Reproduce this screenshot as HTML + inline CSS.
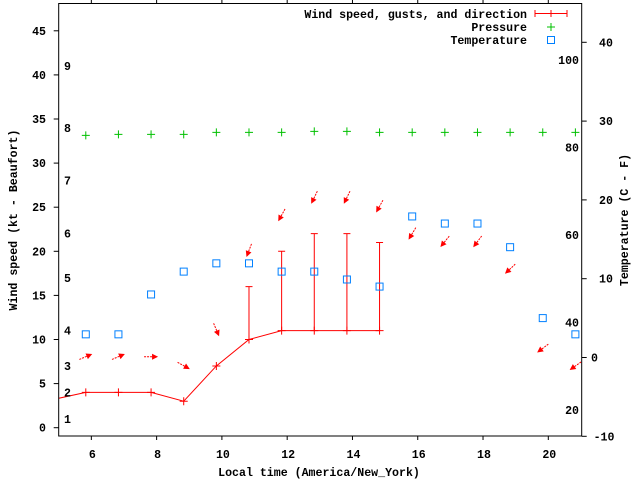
<!DOCTYPE html>
<html><head><meta charset="utf-8"><style>
html,body{margin:0;padding:0;background:#fff;}
svg text{font-family:"Liberation Mono","DejaVu Sans Mono",monospace;font-weight:bold;font-size:11.6px;fill:#000;}
</style></head><body>
<svg id="chart" width="640" height="480" xmlns="http://www.w3.org/2000/svg">
<rect width="640" height="480" fill="#fff"/>
<g id="marks"></g>
</svg>
<script>
const times = [4.83,5.83,6.83,7.83,8.83,9.83,10.83,11.83,12.83,13.83,14.83];
const windSpeed = [3.2,4,4,4,3,7,10,11,11,11,11];
const gustTimes = [10.83,11.83,12.83,13.83,14.83];
const gustValues = [16,20,22,22,21];
const obsTimes = [5.83,6.83,7.83,8.83,9.83,10.83,11.83,12.83,13.83,14.83,15.83,16.83,17.83,18.83,19.83,20.83];
const pressure = [33.15,33.26,33.26,33.26,33.49,33.49,33.49,33.6,33.6,33.49,33.49,33.49,33.49,33.49,33.49,33.49];
const temperature = [2.94,2.94,8.0,10.9,11.95,11.95,10.9,10.9,9.9,9.0,17.9,17.0,17.0,14.0,5.0,2.94];
const arrowLevel = [8.05,8.05,8.05,7.03,11.1,20.1,24.1,26.1,26.1,25.1,22.0,21.1,21.1,18.0,9.0,7.0];
const arrowAngle = [23,23,0,-29,-67,-111,-119,-116,-116,-119,-121,-129,-127,-137,-143,-145];
const xTicks = [6,8,10,12,14,16,18,20];
const yTicks = [0,5,10,15,20,25,30,35,40,45];
const tTicks = [-10,0,10,20,30,40];
const fTicks = [20,40,60,80,100];
const beaufortKt = [1,4,7,11,17,22,28,34,41];
const beaufortLabels = ["1","2","3","4","5","6","7","8","9"];

const L=58.7,R=581.7,T=3.5,B=436;
const sx = v => L + (v-5)*32.64;
const sy = v => 427.7 - v*8.82;
const st = c => 357.5 - c*7.88;
const NS="http://www.w3.org/2000/svg";
const svg=document.getElementById('chart');
const g=document.getElementById('marks');
function mk(tag,attrs,parent){const e=document.createElementNS(NS,tag);for(const k in attrs)e.setAttribute(k,attrs[k]);(parent||g).appendChild(e);return e;}
function txt(s,x,y,anchor,parent){const e=mk('text',{x:x,y:y,'text-anchor':anchor||'start'},parent);e.textContent=s;return e;}

// clip
const defs=mk('defs',{},svg);
const cp=mk('clipPath',{id:'pc'},defs);
mk('rect',{x:L,y:T,width:R-L,height:B-T},cp);
const pg=mk('g',{'clip-path':'url(#pc)'});



// frame
const fr=mk('rect',{x:L,y:T,width:R-L,height:B-T,fill:'none',stroke:'#000','stroke-width':1});



// x ticks
xTicks.forEach(v=>{const x=sx(v);
 mk('line',{x1:x,y1:B,x2:x,y2:B+4,stroke:'#000'});
 mk('line',{x1:x,y1:T,x2:x,y2:T-4,stroke:'#000'});
 const t=txt(String(v),x+1,458,'middle');
 
 
});
yTicks.forEach(v=>{const y=sy(v);
 mk('line',{x1:L,y1:y,x2:L-5,y2:y,stroke:'#000'});
 const t=txt(String(v),46,y+4,'end');
 
 
});
tTicks.forEach(v=>{const y=st(v);
 mk('line',{x1:R,y1:y,x2:R+5,y2:y,stroke:'#000'});
 const t=txt(String(v),v<0?613:(v==0?281+310:599),y+4,v<0?'middle':'start');
 if(v<0)t.setAttribute('x',284+ 320- 0);
 
 
});
fTicks.forEach(v=>{const y=st((v-32)*5/9);
 const t=txt(String(v),579,y+4,'end');
 
 
});
beaufortKt.forEach((k,i)=>{const t=txt(beaufortLabels[i],64,sy(k)+4,'start');
 
 
});

// axis titles
let a=txt('Wind speed (kt - Beaufort)',0,0,'middle');
a.setAttribute('transform','translate(17,220) rotate(-90)');

a=txt('Temperature (C - F)',0,0,'middle');
a.setAttribute('transform','translate(628,220) rotate(-90)');

a=txt('Local time (America/New_York)',319,476,'middle');


// wind line
const red='#ff0000';
const wl=mk('polyline',{points:times.map((t,i)=>sx(t)+','+sy(windSpeed[i])).join(' '),fill:'none',stroke:red,'stroke-width':1},pg);

times.forEach((t,i)=>{const x=sx(t),y=sy(windSpeed[i]);
 const p=mk('path',{d:`M${x-4},${y}h8M${x},${y-4}v8`,stroke:red},pg);
 
});
gustTimes.forEach((t,i)=>{const x=sx(t);const j=times.indexOf(t);
 const y0=sy(windSpeed[j]),y1=sy(gustValues[i]);
 const p=mk('path',{d:`M${x},${y0}V${y1}M${x-3.5},${y1}h7`,stroke:red,fill:'none'},pg);
 
});
// pressure
obsTimes.forEach((t,i)=>{const x=sx(t),y=sy(pressure[i]);
 const p=mk('path',{d:`M${x-4},${y}h8M${x},${y-4}v8`,stroke:'#00c000'},pg);
 
});
// temperature
obsTimes.forEach((t,i)=>{const x=sx(t),y=st(temperature[i]);
 const p=mk('rect',{x:x-3.5,y:y-3.5,width:7,height:7,fill:'none',stroke:'#0080ff'},pg);
 
});
// arrows
obsTimes.forEach((t,i)=>{const cx=sx(t),cy=sy(arrowLevel[i]);const r=arrowAngle[i]*Math.PI/180;
 const dx=Math.cos(r)*7,dy=-Math.sin(r)*7;
 const tx=cx-dx,ty=cy-dy,hx=cx+dx,hy=cy+dy;
 const ux=dx/7,uy=dy/7,px=-uy,py=ux;
 const bx=hx-ux*6,by=hy-uy*6;
 const gg=mk('g',{},pg);
 
 mk('line',{x1:tx,y1:ty,x2:bx,y2:by,stroke:red,'stroke-width':1,'stroke-dasharray':'2,1'},gg);
 mk('polygon',{points:`${hx},${hy} ${bx+px*3},${by+py*3} ${bx-px*3},${by-py*3}`,fill:red},gg);
});

// legend
const lg=mk('g',{});

[['Wind speed, gusts, and direction',14],['Pressure',27],['Temperature',40]].forEach(([s,y])=>{
 const t=txt(s,527,y+4,'end',lg);
 
});
mk('path',{d:'M535,13.5h32M535,10v7M567,10v7M551,10v7',stroke:red,fill:'none'},lg);
mk('path',{d:'M547,27h8M551,23v8',stroke:'#00c000'},lg);
mk('rect',{x:547.5,y:36.5,width:7,height:7,fill:'none',stroke:'#0080ff'},lg);
</script>
</body></html>
